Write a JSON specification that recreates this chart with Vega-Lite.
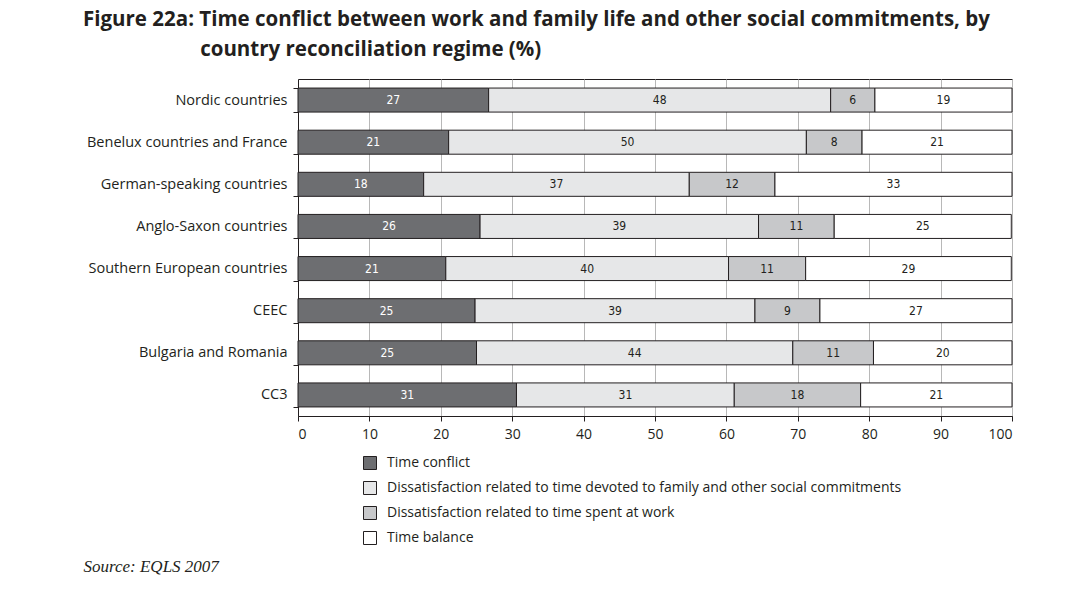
{
  "$schema": "https://vega.github.io/schema/vega-lite/v6.json",
  "autosize": "none",
  "width": 714,
  "height": 337,
  "padding": {"left": 298, "top": 79, "right": 56, "bottom": 176},
  "background": "white",
  "title": {
    "text": ["Figure 22a: Time conflict between work and family life and other social commitments, by", "\u200b\u00a0\u00a0\u00a0\u00a0\u00a0\u00a0\u00a0\u00a0\u00a0\u00a0\u00a0\u00a0\u00a0\u00a0\u00a0\u00a0\u00a0\u00a0\u00a0\u00a0\u00a0\u00a0country reconciliation regime (%)"],
    "anchor": "start",
    "frame": "group",
    "dx": -215,
    "offset": 11,
    "font": "Open Sans",
    "fontSize": 20.5,
    "fontWeight": "bold",
    "color": "#231f20",
    "lineHeight": 30
  },
  "data": {"values": [
    {"region": "Nordic countries", "category": "Time conflict", "k": 1, "value": 26.7, "label": "27"},
    {"region": "Nordic countries", "category": "Dissatisfaction related to time devoted to family and other social commitments", "k": 2, "value": 47.9, "label": "48"},
    {"region": "Nordic countries", "category": "Dissatisfaction related to time spent at work", "k": 3, "value": 6.2, "label": "6"},
    {"region": "Nordic countries", "category": "Time balance", "k": 4, "value": 19.2, "label": "19"},
    {"region": "Benelux countries and France", "category": "Time conflict", "k": 1, "value": 21.1, "label": "21"},
    {"region": "Benelux countries and France", "category": "Dissatisfaction related to time devoted to family and other social commitments", "k": 2, "value": 50.1, "label": "50"},
    {"region": "Benelux countries and France", "category": "Dissatisfaction related to time spent at work", "k": 3, "value": 7.8, "label": "8"},
    {"region": "Benelux countries and France", "category": "Time balance", "k": 4, "value": 21.0, "label": "21"},
    {"region": "German-speaking countries", "category": "Time conflict", "k": 1, "value": 17.6, "label": "18"},
    {"region": "German-speaking countries", "category": "Dissatisfaction related to time devoted to family and other social commitments", "k": 2, "value": 37.2, "label": "37"},
    {"region": "German-speaking countries", "category": "Dissatisfaction related to time spent at work", "k": 3, "value": 12.0, "label": "12"},
    {"region": "German-speaking countries", "category": "Time balance", "k": 4, "value": 33.2, "label": "33"},
    {"region": "Anglo-Saxon countries", "category": "Time conflict", "k": 1, "value": 25.5, "label": "26"},
    {"region": "Anglo-Saxon countries", "category": "Dissatisfaction related to time devoted to family and other social commitments", "k": 2, "value": 39.0, "label": "39"},
    {"region": "Anglo-Saxon countries", "category": "Dissatisfaction related to time spent at work", "k": 3, "value": 10.6, "label": "11"},
    {"region": "Anglo-Saxon countries", "category": "Time balance", "k": 4, "value": 24.8, "label": "25"},
    {"region": "Southern European countries", "category": "Time conflict", "k": 1, "value": 20.7, "label": "21"},
    {"region": "Southern European countries", "category": "Dissatisfaction related to time devoted to family and other social commitments", "k": 2, "value": 39.6, "label": "40"},
    {"region": "Southern European countries", "category": "Dissatisfaction related to time spent at work", "k": 3, "value": 10.8, "label": "11"},
    {"region": "Southern European countries", "category": "Time balance", "k": 4, "value": 28.8, "label": "29"},
    {"region": "CEEC", "category": "Time conflict", "k": 1, "value": 24.8, "label": "25"},
    {"region": "CEEC", "category": "Dissatisfaction related to time devoted to family and other social commitments", "k": 2, "value": 39.2, "label": "39"},
    {"region": "CEEC", "category": "Dissatisfaction related to time spent at work", "k": 3, "value": 9.1, "label": "9"},
    {"region": "CEEC", "category": "Time balance", "k": 4, "value": 26.9, "label": "27"},
    {"region": "Bulgaria and Romania", "category": "Time conflict", "k": 1, "value": 25.0, "label": "25"},
    {"region": "Bulgaria and Romania", "category": "Dissatisfaction related to time devoted to family and other social commitments", "k": 2, "value": 44.3, "label": "44"},
    {"region": "Bulgaria and Romania", "category": "Dissatisfaction related to time spent at work", "k": 3, "value": 11.3, "label": "11"},
    {"region": "Bulgaria and Romania", "category": "Time balance", "k": 4, "value": 19.4, "label": "20"},
    {"region": "CC3", "category": "Time conflict", "k": 1, "value": 30.6, "label": "31"},
    {"region": "CC3", "category": "Dissatisfaction related to time devoted to family and other social commitments", "k": 2, "value": 30.5, "label": "31"},
    {"region": "CC3", "category": "Dissatisfaction related to time spent at work", "k": 3, "value": 17.7, "label": "18"},
    {"region": "CC3", "category": "Time balance", "k": 4, "value": 21.2, "label": "21"}
  ]},
  "transform": [
    {"stack": "value", "groupby": ["region"], "sort": [{"field": "k", "order": "ascending"}], "as": ["x0", "x1"]},
    {"calculate": "(datum.x0 + datum.x1) / 2", "as": "xm"}
  ],
  "encoding": {
    "y": {
      "field": "region",
      "type": "nominal",
      "sort": ["Nordic countries", "Benelux countries and France", "German-speaking countries", "Anglo-Saxon countries", "Southern European countries", "CEEC", "Bulgaria and Romania", "CC3"],
      "scale": {"paddingInner": 0.43, "paddingOuter": 0.215},
      "axis": {
        "title": null,
        "tickBand": "extent",
        "tickSize": 5,
        "tickColor": "#231f20",
        "domainColor": "#231f20",
        "labelFont": "Open Sans",
        "labelFontSize": 14.5,
        "labelColor": "#231f20",
        "labelPadding": 6,
        "labelLimit": 300,
        "grid": false
      }
    }
  },
  "layer": [
    {
      "mark": {"type": "bar", "stroke": "#231f20", "strokeWidth": 1},
      "encoding": {
        "x": {
          "field": "x0",
          "type": "quantitative",
          "scale": {"domain": [0, 100], "nice": false},
          "axis": {
            "values": [0, 10, 20, 30, 40, 50, 60, 70, 80, 90, 100],
            "grid": true,
            "gridColor": "#b8b8b8",
            "gridWidth": 1,
            "tickSize": 5,
            "tickColor": "#231f20",
            "domainColor": "#231f20",
            "labelFont": "Open Sans",
            "labelFontSize": 14,
            "labelColor": "#231f20",
            "labelPadding": 6,
            "title": "Source: EQLS 2007",
            "titleFont": "Liberation Serif",
            "titleFontStyle": "italic",
            "titleFontWeight": "normal",
            "titleFontSize": 17,
            "titleColor": "#231f20",
            "titleAnchor": "start",
            "titleAlign": "left",
            "titleBaseline": "alphabetic",
            "titleX": -215,
            "titleY": 155
          }
        },
        "x2": {"field": "x1"},
        "fill": {
          "field": "category",
          "type": "nominal",
          "scale": {
            "domain": ["Time conflict", "Dissatisfaction related to time devoted to family and other social commitments", "Dissatisfaction related to time spent at work", "Time balance"],
            "range": ["#6d6e71", "#e6e7e8", "#c7c8ca", "#ffffff"]
          },
          "legend": {
            "title": null,
            "orient": "none",
            "legendX": 65,
            "legendY": 377,
            "direction": "vertical",
            "symbolType": "square",
            "symbolSize": 169,
            "symbolStrokeColor": "#231f20",
            "symbolStrokeWidth": 1,
            "labelFont": "Open Sans",
            "labelFontSize": 14,
            "labelColor": "#231f20",
            "labelOffset": 10,
            "labelLimit": 700,
            "rowPadding": 7
          }
        }
      }
    },
    {
      "mark": {"type": "text", "font": "DejaVu Sans Condensed, Roboto Condensed, Open Sans", "fontSize": 12, "align": "center", "baseline": "middle"},
      "encoding": {
        "x": {"field": "xm", "type": "quantitative"},
        "text": {"field": "label"},
        "color": {
          "condition": {"test": "datum.category === 'Time conflict'", "value": "#ffffff"},
          "value": "#231f20"
        }
      }
    }
  ],
  "config": {
    "view": {"stroke": "#231f20", "strokeWidth": 1}
  }
}
